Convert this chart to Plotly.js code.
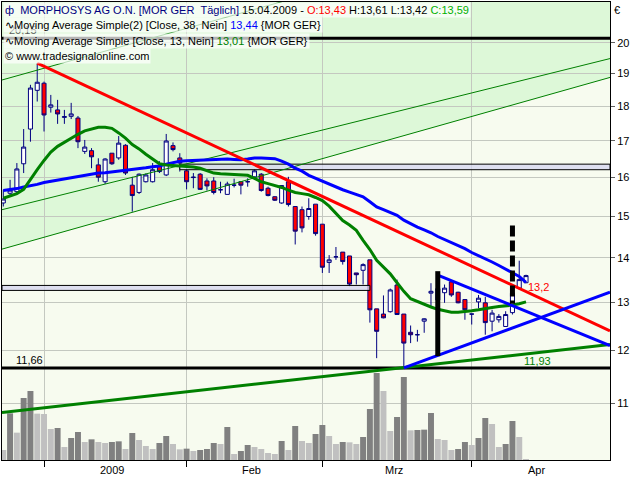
<!DOCTYPE html>
<html><head><meta charset="utf-8">
<script src="https://cdn.plot.ly/plotly-3.0.1.min.js"></script>
<style>html,body{margin:0;padding:0;background:#fff}#chart{width:640px;height:480px}</style>
</head><body><div id="chart"></div>
<script>
// ---------- data ----------
const dates = ['2008-12-18','2008-12-19','2008-12-22','2008-12-23','2008-12-29','2008-12-30',
 '2009-01-02','2009-01-05','2009-01-06','2009-01-07','2009-01-08','2009-01-09','2009-01-12','2009-01-13','2009-01-14','2009-01-15','2009-01-16','2009-01-19','2009-01-20','2009-01-21','2009-01-22','2009-01-23','2009-01-26','2009-01-27','2009-01-28','2009-01-29','2009-01-30',
 '2009-02-02','2009-02-03','2009-02-04','2009-02-05','2009-02-06','2009-02-09','2009-02-10','2009-02-11','2009-02-12','2009-02-13','2009-02-16','2009-02-17','2009-02-18','2009-02-19','2009-02-20','2009-02-23','2009-02-24','2009-02-25','2009-02-26','2009-02-27',
 '2009-03-02','2009-03-03','2009-03-04','2009-03-05','2009-03-06','2009-03-09','2009-03-10','2009-03-11','2009-03-12','2009-03-13','2009-03-16','2009-03-17','2009-03-18','2009-03-19','2009-03-20','2009-03-23','2009-03-24','2009-03-25','2009-03-26','2009-03-27','2009-03-30','2009-03-31',
 '2009-04-01','2009-04-02','2009-04-03','2009-04-06','2009-04-07','2009-04-08','2009-04-09','2009-04-14','2009-04-15'];

const open = [15.33,15.58,15.62,16.36,17.33,18.48,18.70,17.97,17.89,17.67,
 17.70,17.65,16.70,16.72,16.33,15.88,16.65,16.52,16.87,15.79,
 15.60,15.88,15.88,16.29,16.06,16.86,16.52,16.17,15.99,16.08,
 15.90,15.90,15.67,15.55,15.79,15.88,15.88,16.01,16.08,15.71,
 15.49,15.33,15.88,15.24,15.16,14.99,15.30,14.80,13.89,14.02,
 14.13,14.04,13.65,13.71,13.95,12.86,12.75,12.80,13.38,12.75,
 12.37,12.32,12.60,13.20,13.05,13.21,13.45,13.22,13.06,12.75,
 13.01,12.99,12.60,12.63,12.49,12.78,13.31,13.43];
const high = [15.67,15.93,16.38,17.33,18.65,19.33,18.75,18.34,18.19,17.89,
 18.10,17.71,17.02,16.79,16.51,16.51,16.65,17.13,16.90,16.01,
 16.10,16.10,16.38,16.43,17.19,16.95,16.65,16.29,16.11,16.11,
 15.97,16.00,15.88,15.88,15.96,15.88,15.97,16.22,16.11,15.75,
 15.50,15.79,16.01,15.24,15.24,15.45,15.30,14.80,14.06,14.25,
 14.13,14.04,13.65,13.87,13.95,12.86,13.15,13.30,13.50,12.75,
 12.51,12.42,12.66,13.42,13.45,13.39,13.45,13.23,13.06,12.75,
 13.16,13.12,12.84,12.75,12.81,13.25,13.93,13.61];
const low = [15.24,15.50,15.59,16.11,16.97,18.14,17.26,17.81,17.48,17.48,
 17.62,16.79,16.63,16.24,15.88,15.82,16.33,16.47,16.06,15.11,
 15.56,15.86,15.86,16.11,16.03,16.70,16.15,15.68,15.71,15.67,
 15.65,15.55,15.58,15.55,15.73,15.55,15.75,15.97,15.62,15.50,
 15.38,15.31,15.24,14.31,14.60,14.91,14.52,13.65,13.65,13.95,
 13.84,13.35,13.39,13.39,12.57,11.85,12.66,12.78,12.74,11.66,
 12.15,12.18,12.36,12.91,12.95,12.99,13.12,12.98,12.63,12.53,
 12.87,12.32,12.39,12.57,12.49,12.74,13.28,13.42];
const close = [15.43,15.66,16.22,16.82,18.55,18.73,17.74,18.04,17.77,17.69,
 17.77,16.97,16.82,16.55,16.00,16.49,16.36,16.93,16.11,15.52,
 16.08,16.06,16.20,16.15,16.99,16.75,16.38,15.88,16.00,15.68,
 15.77,15.60,15.67,15.82,15.79,15.79,15.88,16.17,15.65,15.52,
 15.40,15.78,15.29,14.63,14.71,15.19,14.57,13.78,13.95,14.02,
 13.91,13.40,13.61,13.84,12.84,12.39,12.67,13.27,12.74,12.15,
 12.32,12.32,12.65,13.24,13.30,13.31,13.16,12.99,12.84,12.75,
 13.09,12.57,12.77,12.70,12.74,13.20,13.50,13.59];
// volume (relative units, no scale shown in the reference)
const volume = [30,140,82,186,207,139,138,93,96,39,
 66,84,54,62,54,51,54,56,33,81,
 60,42,33,51,72,48,32,34,27,30,
 33,51,48,99,18,27,45,39,33,21,
 18,57,30,102,57,51,78,105,72,48,
 54,53,48,69,153,261,207,87,129,249,
 89,90,91,141,63,60,30,33,54,45,
 66,126,108,39,48,117,69,3];
// Moving Average Simple(2) [Close, 38] (blue)
const ma38 = [15.65,15.67,15.70,15.74,15.77,15.81,15.86,15.89,15.92,15.95,
 15.98,16.02,16.05,16.08,16.11,16.12,16.14,16.16,16.17,16.19,
 16.22,16.25,16.28,16.30,16.35,16.39,16.43,16.44,16.45,16.46,
 16.47,16.49,16.49,16.49,16.48,16.47,16.49,16.52,16.52,16.52,
 16.50,16.43,16.35,16.24,16.16,16.05,15.97,15.91,15.82,15.74,
 15.67,15.61,15.55,15.49,15.36,15.23,15.16,15.09,15.02,14.90,
 14.81,14.73,14.66,14.59,14.50,14.43,14.36,14.28,14.21,14.12,
 14.05,13.98,13.90,13.82,13.74,13.66,13.57,13.44];
// Moving Average Simple [Close, 13] (green)
const ma13 = [15.45,15.50,15.57,15.68,15.95,16.20,16.45,16.68,16.84,16.96,
 17.08,17.18,17.28,17.34,17.38,17.38,17.35,17.22,17.07,16.89,
 16.77,16.62,16.48,16.36,16.33,16.32,16.31,16.28,16.27,16.24,
 16.17,16.11,16.09,16.08,16.07,16.06,16.05,15.97,15.88,15.83,
 15.79,15.73,15.66,15.60,15.57,15.54,15.47,15.39,15.25,15.08,
 14.89,14.78,14.65,14.41,14.19,13.94,13.79,13.63,13.43,13.24,
 13.08,13.02,12.95,12.90,12.85,12.82,12.79,12.79,12.80,12.82,
 12.84,12.87,12.89,12.91,12.92,12.94,12.97,13.01];

const priceTicks = [11,12,13,14,15,16,17,18,19,20];
const monthLabels = ['2009','Feb','Mrz','Apr'];
const monthLabelPos = [16, 36.5, 57.5, 78.5];

// drawing tools (index, price)
const xSpan = [-0.19, 89.37];
const priceRange = [10.008, 21.397];
const chanUpperVal = [18.80, 24.93];
const chanMidVal = [15.16, 19.48];
const chanLowerVal = [14.20, 18.88];
const redTrendIdx = [5, 89.37], redTrendVal = [19.33, 12.40];
const greenTrendVal = [10.83, 12.12];
const triLowIdx = [59, 89.37], triLowVal = [11.66, 13.22];
const triUpIdx = [64, 89.37], triUpVal = [13.60, 12.10];
const vLineIdx = [64, 64], vLineVal = [13.69, 11.89];
const vDashIdx = [75, 75], vDashVal = [14.77, 12.97];
const hLevels = [20.15, 11.66];
const zone1Idx = [26.0, 89.37], zone1Val = [16.20, 16.35];
const zone2Idx = [-0.19, 54.0], zone2Val = [13.26, 13.37];

// ---------- helpers ----------
const N = dates.length, last = N - 1;
const idx = dates.map((d, i) => i);
const fmt2 = v => v.toFixed(2).replace('.', ',');
const fmt1 = v => v.toFixed(1).replace('.', ',');
const pxX = p => (p - 2) / 608;
const pxY = p => 1 - (p - 2) / 458;
const logInterp = (xs, vs, x) => {
  const t = (x - xs[0]) / (xs[1] - xs[0]);
  return Math.exp(Math.log(vs[0]) + t * (Math.log(vs[1]) - Math.log(vs[0])));
};
const monthStart = idx.filter(i => i > 0 && dates[i].slice(0, 7) !== dates[i - 1].slice(0, 7));
const volColors = volume.map((v, i) => (i > 0 && v > volume[i - 1]) ? '#808080' : '#c0c0c0');

const ln = (xs, ys, color, width, dash) => ({
  type: 'scatter', mode: 'lines', x: xs, y: ys, xaxis: 'x', yaxis: 'y2',
  line: { color: color, width: width, dash: dash || 'solid' }, hoverinfo: 'skip'
});
const zone = (xs, vs) => ({
  type: 'scatter', mode: 'lines', xaxis: 'x', yaxis: 'y2', fill: 'toself',
  x: [xs[0], xs[1], xs[1], xs[0], xs[0]], y: [vs[0], vs[0], vs[1], vs[1], vs[0]],
  fillcolor: 'rgba(214,214,240,0.75)', line: { color: '#000', width: 1 }, hoverinfo: 'skip'
});

const traces = [
  { type: 'bar', x: idx, y: volume, xaxis: 'x', yaxis: 'y', marker: { color: volColors, line: { width: 0 } }, hoverinfo: 'skip' },
  zone(zone2Idx, zone2Val),
  zone(zone1Idx, zone1Val),
  ln(xSpan, [hLevels[0], hLevels[0]], '#000', 3),
  ln(xSpan, [hLevels[1], hLevels[1]], '#000', 3),
  ln(xSpan, chanUpperVal, '#008000', 1),
  ln(xSpan, chanMidVal, '#008000', 1),
  ln(xSpan, chanLowerVal, '#008000', 1),
  ln(xSpan, greenTrendVal, '#008000', 3),
  { type: 'candlestick', x: idx, open: open, high: high, low: low, close: close, xaxis: 'x', yaxis: 'y2',
    increasing: { line: { color: '#000080', width: 1 }, fillcolor: '#ffffff' },
    decreasing: { line: { color: '#000080', width: 1 }, fillcolor: '#ff0000' },
    whiskerwidth: 0, hoverinfo: 'skip' },
  ln(idx, ma38, '#0000ff', 3),
  ln(idx, ma13, '#008000', 3),
  ln(redTrendIdx, redTrendVal, '#ff0000', 3),
  ln(triUpIdx, triUpVal, '#0000ff', 3),
  ln(triLowIdx, triLowVal, '#0000ff', 3),
  ln(vLineIdx, vLineVal, '#000', 5),
  ln(vDashIdx, vDashVal, '#000', 5, '11px,4px')
];

const font = 'Liberation Sans, Arial, sans-serif';
const legBg = 'rgba(255,255,255,0.7)';
const leg = (text, py) => ({ xref: 'paper', yref: 'paper', x: pxX(3), y: pxY(py), xanchor: 'left', yanchor: 'middle',
  text: text, showarrow: false, bgcolor: legBg, borderpad: 1, font: { family: font, size: 11, color: '#000' } });
const [yy, mm, dd] = dates[last].split('-');
const line1 = '<span style="color:#000080">ф\u00a0\u00a0MORPHOSYS AG O.N. [MOR GER\u00a0\u00a0Täglich]</span> ' + dd + '.' + mm + '.' + yy +
  ' - <span style="color:#ff0000">O:' + fmt2(open[last]) + '</span> H:' + fmt2(high[last]) + ' L:' + fmt2(low[last]) +
  ' <span style="color:#00b000">C:' + fmt2(close[last]) + '</span>';
const line2 = '∿Moving Average Simple(2) [Close, 38, Nein] <span style="color:#0000ff">' + fmt2(ma38[last]) + '</span> {MOR GER}';
const line3 = '∿Moving Average Simple [Close, 13, Nein] <span style="color:#008000">' + fmt2(ma13[last]) + '</span> {MOR GER}';
const line4 = '© www.tradesignalonline.com';

const redAtLast = logInterp(redTrendIdx, redTrendVal, last);
const greenAtLast = logInterp(xSpan, greenTrendVal, last);

const annotations = [
  { xref: 'x', yref: 'y2', x: xSpan[0], y: Math.log10(hLevels[0]), xanchor: 'left', yanchor: 'bottom', xshift: 5, yshift: 0,
    text: fmt2(hLevels[0]), showarrow: false, font: { family: font, size: 11, color: '#000' } },
  { xref: 'x', yref: 'y2', x: xSpan[0], y: Math.log10(hLevels[1]), xanchor: 'left', yanchor: 'bottom', xshift: 12, yshift: 0,
    text: fmt2(hLevels[1]), showarrow: false, font: { family: font, size: 11, color: '#000' } },
  { xref: 'x', yref: 'y2', x: last, y: Math.log10(redAtLast), xanchor: 'left', yanchor: 'middle', xshift: 0, yshift: 5,
    text: fmt1(redAtLast), showarrow: false, font: { family: font, size: 11, color: '#ff0000' } },
  { xref: 'x', yref: 'y2', x: last, y: Math.log10(greenAtLast), xanchor: 'left', yanchor: 'middle', xshift: -4, yshift: -7,
    text: fmt2(greenAtLast), showarrow: false, font: { family: font, size: 11, color: '#008000' } },
  leg(line1, 10), leg(line2, 25), leg(line3, 40.7), leg(line4, 56),
  { xref: 'paper', yref: 'paper', x: pxX(617), y: pxY(10), xanchor: 'center', yanchor: 'middle', text: '€', showarrow: false,
    font: { family: font, size: 11, color: '#000' } }
].concat(monthLabels.map((t, k) => ({ xref: 'x', yref: 'paper', x: monthLabelPos[k], y: pxY(470), xanchor: 'center', yanchor: 'middle',
  text: t, showarrow: false, font: { family: font, size: 11, color: '#000' } })));

const yTop = priceRange[1];
const layout = {
  width: 640, height: 480, margin: { l: 2, r: 30, t: 2, b: 20, pad: 0 },
  paper_bgcolor: '#ffffff', plot_bgcolor: '#f7fbef', showlegend: false, hovermode: false,
  font: { family: font, size: 11, color: '#000' },
  bargap: 0.12, boxgap: 0.3, boxgroupgap: 0.15,
  xaxis: { range: xSpan, tickvals: monthStart, ticktext: monthStart.map(() => ''), ticks: 'outside', ticklen: 6, tickcolor: '#000',
    showgrid: true, gridcolor: '#c4c8c0', gridwidth: 1, showline: true, mirror: true, linecolor: '#000', linewidth: 1,
    zeroline: false, rangeslider: { visible: false }, fixedrange: true },
  yaxis: { range: [0, 1374], visible: false, fixedrange: true },
  yaxis2: { type: 'log', range: [Math.log10(priceRange[0]), Math.log10(priceRange[1])], overlaying: 'y', side: 'right',
    tickvals: priceTicks, ticktext: priceTicks.map(String), ticks: 'outside', ticklen: 4, tickcolor: '#606060',
    showgrid: true, gridcolor: '#c4c8c0', gridwidth: 1, showline: true, mirror: true, linecolor: '#000', linewidth: 1,
    zeroline: false, tickfont: { family: font, size: 11, color: '#000' }, fixedrange: true },
  shapes: [{ type: 'path', xref: 'x', yref: 'y2', layer: 'below',
    path: 'M ' + xSpan[0] + ',' + chanLowerVal[0] + ' L ' + xSpan[1] + ',' + chanLowerVal[1] + ' L ' + xSpan[1] + ',' + yTop + ' L ' + xSpan[0] + ',' + yTop + ' Z',
    fillcolor: '#ddf8d8', line: { width: 0 } }],
  annotations: annotations
};
Plotly.newPlot('chart', traces, layout, { displayModeBar: false, staticPlot: true });
</script></body></html>
